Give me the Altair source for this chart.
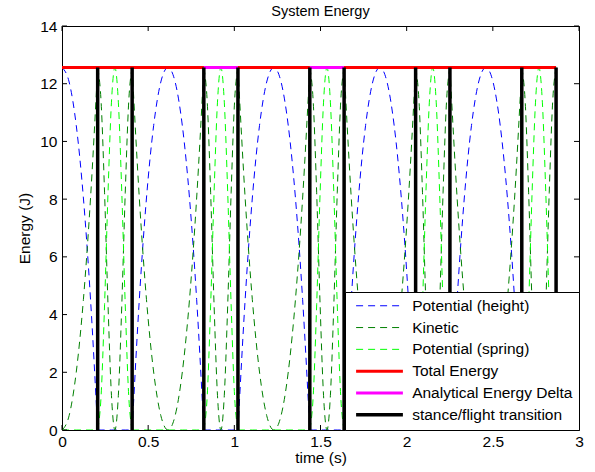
import altair as alt
import pandas as pd

# ---- values ----
total_energy = 12.56
transitions = [0.207, 0.407, 0.823, 1.021, 1.438, 1.637, 2.052, 2.251, 2.668, 2.867]
analytical_intervals = [(0.823, 1.021), (1.438, 1.637)]

# sample positions inside each phase (fraction of the phase duration)
frac = [0.0, 0.1, 0.2, 0.3, 0.4, 0.5, 0.6, 0.7, 0.8, 0.9, 1.0]
flight_height = [0.0, 4.52, 8.04, 10.55, 12.06, 12.56, 12.06, 10.55, 8.04, 4.52, 0.0]
flight_kinetic = [12.56, 8.04, 4.52, 2.01, 0.50, 0.0, 0.50, 2.01, 4.52, 8.04, 12.56]
flight_spring = [0.0, 0.0, 0.0, 0.0, 0.0, 0.0, 0.0, 0.0, 0.0, 0.0, 0.0]
stance_height = [0.0, 0.0, 0.0, 0.0, 0.0, 0.0, 0.0, 0.0, 0.0, 0.0, 0.0]
stance_kinetic = [12.56, 11.36, 8.22, 4.34, 1.20, 0.0, 1.20, 4.34, 8.22, 11.36, 12.56]
stance_spring = [0.0, 1.20, 4.34, 8.22, 11.36, 12.56, 11.36, 8.22, 4.34, 1.20, 0.0]

series_names = ["Potential (height)", "Kinetic", "Potential (spring)",
                "Total Energy", "Analytical Energy Delta", "stance/flight transition"]
series_colors = ["#0000ff", "#008000", "#00ff00", "#ff0000", "#ff00ff", "#000000"]
series_dash = [[7, 5], [7, 5], [7, 5], [1, 0], [1, 0], [1, 0]]

x_ticks = [0, 0.5, 1, 1.5, 2, 2.5, 3]
y_ticks = [0, 2, 4, 6, 8, 10, 12, 14]

# ---- build tables ----
# the run starts at the apex of a flight phase (half flight before first touchdown)
bounds = [-transitions[0]] + transitions
rows = []
for i in range(len(bounds) - 1):
    t0, t1 = bounds[i], bounds[i + 1]
    if i % 2 == 0:
        shapes = [flight_height, flight_kinetic, flight_spring]
    else:
        shapes = [stance_height, stance_kinetic, stance_spring]
    for name, vals in zip(series_names[:3], shapes):
        for f, v in zip(frac, vals):
            t = t0 + f * (t1 - t0)
            if t >= -1e-9:
                rows.append({"t": max(t, 0.0), "v": v, "series": name, "seg": f"{name}-{i}"})
curves = pd.DataFrame(rows)

erows = [{"t": 0.0, "v": total_energy, "series": series_names[3], "seg": "tot"},
         {"t": transitions[-1], "v": total_energy, "series": series_names[3], "seg": "tot"}]
for k, (a, b) in enumerate(analytical_intervals):
    erows.append({"t": a, "v": total_energy, "series": series_names[4], "seg": f"an{k}"})
    erows.append({"t": b, "v": total_energy, "series": series_names[4], "seg": f"an{k}"})
energy = pd.DataFrame(erows)

trans = pd.DataFrame({"t": transitions, "v0": [0.0] * len(transitions),
                      "v1": [total_energy] * len(transitions),
                      "series": [series_names[5]] * len(transitions)})

W, H = 517, 404
FONT = "Liberation Sans"

thick = "['" + "','".join(series_names[3:5]) + "']"
width_expr = (f"indexof({thick}, datum.value) >= 0 ? 3 : "
              f"(datum.value == '{series_names[5]}' ? 3.5 : 1)")

leg = alt.Legend(title=None, orient="bottom-right", offset=0, padding=6,
                 fillColor="white", strokeColor="black", cornerRadius=0,
                 symbolType="M-7.8,0H7.8", symbolSize=36, symbolOffset=20.75,
                 labelOffset=24.9, labelFontSize=15.5, labelFont=FONT,
                 labelLimit=0, rowPadding=4.8, labelColor="black",
                 symbolStrokeWidth={"expr": width_expr})

color = alt.Color("series:N", scale=alt.Scale(domain=series_names, range=series_colors),
                  legend=leg, sort=series_names)
dash = alt.StrokeDash("series:N", scale=alt.Scale(domain=series_names, range=series_dash),
                      legend=leg, sort=series_names)

xscale = alt.Scale(domain=[0, 3], nice=False, zero=False)
yscale = alt.Scale(domain=[0, 14], nice=False)

xaxis = alt.Axis(values=x_ticks, format="~g", grid=False, domain=False, ticks=False, tickSize=0,
                 labelFlush=False, labelPadding=4, title="time (s)", titlePadding=1,
                 labelFontSize=15.5, titleFontSize=15.5, labelFont=FONT, titleFont=FONT,
                 titleFontWeight="normal", labelColor="black", titleColor="black")
yaxis = alt.Axis(values=y_ticks, format="~g", grid=False, domain=False, ticks=False, tickSize=0,
                 labelFlush=False, labelPadding=5, title="Energy (J)", titlePadding=7,
                 labelFontSize=15.5, titleFontSize=15.5, labelFont=FONT, titleFont=FONT,
                 titleFontWeight="normal", labelColor="black", titleColor="black")

curve_layer = alt.Chart(curves).mark_line(interpolate="monotone", clip=True, strokeWidth=1).encode(
    x=alt.X("t:Q", scale=xscale, axis=xaxis),
    y=alt.Y("v:Q", scale=yscale, axis=yaxis),
    color=color, strokeDash=dash, detail="seg:N")

energy_layer = alt.Chart(energy).mark_line(strokeWidth=3).encode(
    x="t:Q", y="v:Q", color=color, strokeDash=dash, detail="seg:N")

trans_layer = alt.Chart(trans).mark_rule(strokeWidth=3.5).encode(
    x="t:Q", y="v0:Q", y2="v1:Q", color=color, strokeDash=dash)

xt = pd.DataFrame({"x": x_ticks})
yt = pd.DataFrame({"y": y_ticks})
tick_bottom = alt.Chart(xt).mark_rule(color="black", strokeWidth=1).encode(
    x="x:Q", y=alt.value(H), y2=alt.value(H - 5))
tick_top = alt.Chart(xt).mark_rule(color="black", strokeWidth=1).encode(
    x="x:Q", y=alt.value(0), y2=alt.value(5))
tick_left = alt.Chart(yt).mark_rule(color="black", strokeWidth=1).encode(
    y="y:Q", x=alt.value(0), x2=alt.value(5))
tick_right = alt.Chart(yt).mark_rule(color="black", strokeWidth=1).encode(
    y="y:Q", x=alt.value(W - 5), x2=alt.value(W))

chart = alt.layer(
    curve_layer, energy_layer, trans_layer,
    tick_bottom, tick_top, tick_left, tick_right
).properties(
    width=W, height=H,
    title=alt.TitleParams("System Energy", fontSize=14.5, font=FONT, fontWeight="normal",
                          anchor="middle", baseline="bottom", offset=0, dy=14, frame="group",
                          color="black"),
    autosize=alt.AutoSizeParams(type="none"),
    padding={"left": 62, "top": 26, "right": 16, "bottom": 42},
    background="white",
).configure_view(stroke="black", strokeWidth=1)

chart.save("out.html", embed_options={"renderer": "svg", "actions": False})
